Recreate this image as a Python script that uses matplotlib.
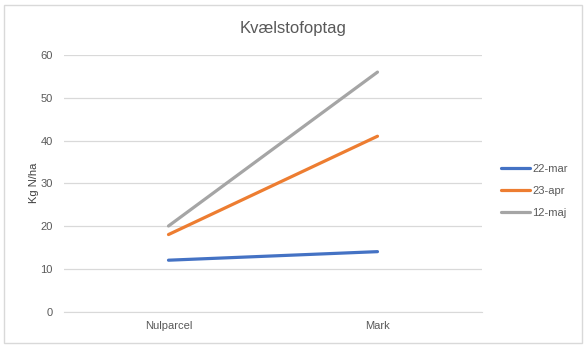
import matplotlib.pyplot as plt
from matplotlib.patches import Rectangle

# Data
categories = ["Nulparcel", "Mark"]
series_names = ["22-mar", "23-apr", "12-maj"]
values_mar = [12, 14]
values_apr = [18, 41]
values_maj = [20, 56]
colors = ["#4472C4", "#ED7D31", "#A5A5A5"]

plt.rcParams["font.family"] = ["Liberation Sans", "DejaVu Sans"]

fig = plt.figure(figsize=(5.86, 3.47), dpi=100)
ax = fig.add_axes([0.1092, 0.1023, 0.7133, 0.7392])

x = range(len(categories))
for name, vals, c in zip(series_names, [values_mar, values_apr, values_maj], colors):
    ax.plot(x, vals, color=c, linewidth=2.3, label=name, solid_capstyle="round")

ax.set_xlim(-0.5, 1.5)
ax.set_ylim(0, 60)
ax.set_yticks(range(0, 61, 10))
ax.set_xticks(list(x))
ax.set_xticklabels(categories)
ax.grid(axis="y", color="#D9D9D9", linewidth=0.9)
ax.set_axisbelow(True)
for s in ["top", "right", "left"]:
    ax.spines[s].set_visible(False)
ax.spines["bottom"].set_color("#D9D9D9")
ax.tick_params(axis="y", length=0, colors="#595959", labelsize=8, pad=8)
ax.tick_params(axis="x", length=0, colors="#595959", labelsize=8, pad=7)
ax.set_ylabel("Kg N/ha", color="#404040", fontsize=8, labelpad=1)

fig.text(0.5, 1 - 29 / 347, "Kvælstofoptag", ha="center", va="center",
         fontsize=12, color="#595959")

fig.legend(loc="center left", bbox_to_anchor=(0.838, 0.4496), frameon=False,
           fontsize=8, handlelength=2.6, handletextpad=0.2, labelspacing=1.1,
           labelcolor="#595959")

fig.add_artist(Rectangle((0.006, 0.012), 0.988, 0.974, transform=fig.transFigure,
                         fill=False, edgecolor="#D9D9D9", linewidth=1))

fig.savefig("out.png", dpi=100)
